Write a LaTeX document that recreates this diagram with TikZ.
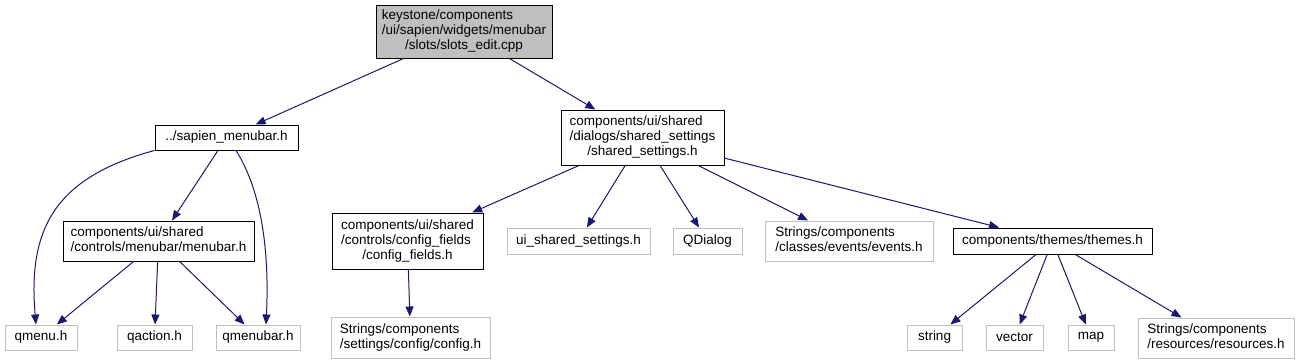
\documentclass[tikz,border=0pt]{standalone}
\usepackage{fontspec}
\setmainfont{Liberation Sans}
\usetikzlibrary{arrows.meta,calc}
\definecolor{edgecol}{HTML}{191970}
\definecolor{greybd}{HTML}{BFBFBF}
\newcommand{\mylbl}[2]{\begin{tabular}{@{}l@{}}#1\\\multicolumn{1}{@{}c@{}}{#2}\end{tabular}}
\tikzset{
  box/.style={draw=black, line width=1pt, inner sep=0pt, align=center,
    font=\fontsize{13.5}{15}\selectfont, text=black},
  extbox/.style={box, draw=greybd, line width=1pt},
  topbox/.style={box, fill=greybd},
  edge/.style={draw=edgecol, line width=1pt, -{Triangle[length=10pt,width=8pt]}},
}
\begin{document}
\begin{tikzpicture}[x=1pt,y=-1pt]
\useasboundingbox (0,0) rectangle (1299,364);
% nodes
\node[topbox, minimum width=176pt, minimum height=53pt] (top) at (464,31.5)
  {\mylbl{keystone/components\\/ui/sapien/widgets/menubar}{/slots/slots\_edit.cpp}};
\node[box, minimum width=143pt, minimum height=25pt] (sapien) at (226.5,137.5) {../sapien\_menubar.h};
\node[box, minimum width=163pt, minimum height=55pt] (shared) at (642.5,137.5)
  {\mylbl{components/ui/shared\\/dialogs/shared\_settings}{/shared\_settings.h}};
\node[box, minimum width=191pt, minimum height=40pt] (menubar) at (158.5,241)
  {\mylbl{components/ui/shared}{/controls/menubar/menubar.h}};
\node[extbox, minimum width=72pt, minimum height=25pt] (qmenu) at (41,337.5) {qmenu.h};
\node[extbox, minimum width=75pt, minimum height=25pt] (qaction) at (154.5,337.5) {qaction.h};
\node[extbox, minimum width=84pt, minimum height=25pt] (qmenubar) at (258,337.5) {qmenubar.h};
\node[box, minimum width=151pt, minimum height=56pt] (cfields) at (407.5,241)
  {\mylbl{components/ui/shared\\/controls/config\_fields}{/config\_fields.h}};
\node[extbox, minimum width=159pt, minimum height=41pt] (config) at (410.5,337.5)
  {\mylbl{Strings/components}{/settings/config/config.h}};
\node[extbox, minimum width=143pt, minimum height=26pt] (ui) at (578.5,241) {ui\_shared\_settings.h};
\node[extbox, minimum width=69pt, minimum height=26pt] (qdialog) at (707.5,241) {QDialog};
\node[extbox, minimum width=168pt, minimum height=40pt] (events) at (849,241)
  {\mylbl{Strings/components}{/classes/events/events.h}};
\node[box, minimum width=199pt, minimum height=26pt] (themes) at (1052.5,241) {components/themes/themes.h};
\node[extbox, minimum width=55pt, minimum height=25pt] (string) at (934.5,337.5) {string};
\node[extbox, minimum width=57pt, minimum height=25pt] (vector) at (1014.5,337.5) {vector};
\node[extbox, minimum width=46pt, minimum height=25pt] (map) at (1091,337.5) {map};
\node[extbox, minimum width=156pt, minimum height=40pt] (resources) at (1216,338)
  {\mylbl{Strings/components}{/resources/resources.h}};
% edges
\draw[edge] (top) -- (sapien);
\draw[edge] (top) -- (shared);
\draw[edge] (sapien.south west) .. controls (52,178) and (28,232) .. ($(qmenu.north)+(-5,0)$);
\draw[edge] (sapien) -- (menubar);
\draw[edge] ($(sapien.south)+(9.5,0)$) .. controls (258,185) and (270,240) .. ($(qmenubar.north)+(8,0)$);
\draw[edge] (menubar) -- (qmenu);
\draw[edge] (menubar) -- (qaction);
\draw[edge] (menubar) -- (qmenubar);
\draw[edge] (shared) -- (cfields);
\draw[edge] (shared) -- (ui);
\draw[edge] (shared) -- (qdialog);
\draw[edge] (shared) -- (events);
\draw[edge] (shared) -- (themes);
\draw[edge] (cfields) -- (config);
\draw[edge] (themes) -- (string);
\draw[edge] (themes) -- (vector);
\draw[edge] (themes) -- (map);
\draw[edge] (themes) -- (resources);
\end{tikzpicture}
\end{document}
